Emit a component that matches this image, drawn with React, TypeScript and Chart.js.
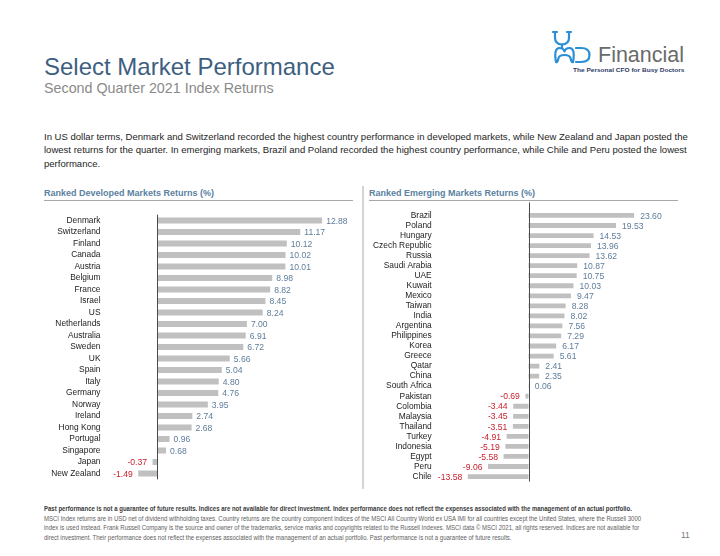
import React, { useEffect, useLayoutEffect, useRef, useState } from 'react';
import { Chart, registerables } from 'chart.js';

Chart.register(...registerables);

// ---------- DATA ----------
const devCountries = [
  'Denmark', 'Switzerland', 'Finland', 'Canada', 'Austria', 'Belgium', 'France', 'Israel', 'US',
  'Netherlands', 'Australia', 'Sweden', 'UK', 'Spain', 'Italy', 'Germany', 'Norway', 'Ireland',
  'Hong Kong', 'Portugal', 'Singapore', 'Japan', 'New Zealand',
];
const devReturns = [
  12.88, 11.17, 10.12, 10.02, 10.01, 8.98, 8.82, 8.45, 8.24, 7.0, 6.91, 6.72, 5.66, 5.04, 4.8,
  4.76, 3.95, 2.74, 2.68, 0.96, 0.68, -0.37, -1.49,
];
const emCountries = [
  'Brazil', 'Poland', 'Hungary', 'Czech Republic', 'Russia', 'Saudi Arabia', 'UAE', 'Kuwait',
  'Mexico', 'Taiwan', 'India', 'Argentina', 'Philippines', 'Korea', 'Greece', 'Qatar', 'China',
  'South Africa', 'Pakistan', 'Colombia', 'Malaysia', 'Thailand', 'Turkey', 'Indonesia', 'Egypt',
  'Peru', 'Chile',
];
const emReturns = [
  23.6, 19.53, 14.53, 13.96, 13.62, 10.87, 10.75, 10.03, 9.47, 8.28, 8.02, 7.56, 7.29, 6.17, 5.61,
  2.41, 2.35, 0.06, -0.69, -3.44, -3.45, -3.51, -4.91, -5.19, -5.58, -9.06, -13.58,
];

const titleText = 'Select Market Performance';
const subtitleText = 'Second Quarter 2021 Index Returns';
const paragraphLines = [
  'In US dollar terms, Denmark and Switzerland recorded the highest country performance in developed markets, while New Zealand and Japan posted the',
  'lowest returns for the quarter. In emerging markets, Brazil and Poland recorded the highest country performance, while Chile and Peru posted the lowest',
  'performance.',
];
const devHeader = 'Ranked Developed Markets Returns (%)';
const emHeader = 'Ranked Emerging Markets Returns (%)';
const footerBold =
  'Past performance is not a guarantee of future results. Indices are not available for direct investment. Index performance does not reflect the expenses associated with the management of an actual portfolio.';
const footerLines = [
  'MSCI Index returns are in USD net of dividend withholding taxes. Country returns are the country component indices of the MSCI All Country World ex USA IMI for all countries except the United States, where the Russell 3000',
  'index is used instead. Frank Russell Company is the source and owner of the trademarks, service marks and copyrights related to the Russell Indexes. MSCI data © MSCI 2021, all rights reserved. Indices are not available for',
  'direct investment. Their performance does not reflect the expenses associated with the management of an actual portfolio. Past performance is not a guarantee of future results.',
];
const pageNumber = '11';

// ---------- STYLE ----------
const FONT = "'Liberation Sans', Arial, Helvetica, sans-serif";
const NARROW = "'Liberation Sans Narrow', 'Arial Narrow', 'Liberation Sans', Arial, sans-serif";
const BAR_COLOR = '#c0c0c0';
const POS_COLOR = '#5f7d9b';
const NEG_COLOR = '#c8202e';

const valueLabelPlugin = {
  id: 'valueLabels',
  afterDatasetsDraw(chart: any, _args: any, opts: any) {
    const ctx = chart.ctx;
    const meta = chart.getDatasetMeta(0);
    const data = chart.data.datasets[0].data as number[];
    ctx.save();
    ctx.font = `${opts.size}px ${FONT}`;
    ctx.textBaseline = 'middle';
    meta.data.forEach((bar: any, i: number) => {
      const v = data[i];
      const neg = v < 0;
      ctx.fillStyle = neg ? NEG_COLOR : POS_COLOR;
      ctx.textAlign = neg ? 'right' : 'left';
      const x = neg ? bar.x - opts.negGap : bar.x + opts.posGap;
      ctx.fillText(v.toFixed(2), x, bar.y + opts.dy);
    });
    ctx.restore();
  },
};

const zeroLinePlugin = {
  id: 'zeroLine',
  afterDatasetsDraw(chart: any, _args: any, opts: any) {
    const ctx = chart.ctx;
    const x = Math.round(chart.scales.x.getPixelForValue(0)) + 0.5;
    const { top, bottom } = chart.chartArea;
    ctx.save();
    ctx.strokeStyle = '#4a4a4a';
    ctx.lineWidth = 1;
    ctx.beginPath();
    ctx.moveTo(x, top - (opts.extTop || 0));
    ctx.lineTo(x, bottom + (opts.extBottom || 0));
    ctx.stroke();
    ctx.restore();
  },
};

type BarProps = {
  labels: string[];
  values: number[];
  left: number;
  top: number;
  width: number;
  height: number;
  axisWidth: number;
  pad: { top: number; bottom: number; right: number };
  min: number;
  max: number;
  labelPad: number;
  barPct: number;
  posGap: number;
  negGap: number;
  extTop: number;
};

function BarChart(p: BarProps) {
  const ref = useRef<HTMLCanvasElement>(null);
  useEffect(() => {
    if (!ref.current) return;
    const chart = new Chart(ref.current, {
      type: 'bar',
      data: {
        labels: p.labels,
        datasets: [
          {
            data: p.values,
            backgroundColor: BAR_COLOR,
            borderWidth: 0,
            barPercentage: p.barPct,
            categoryPercentage: 1,
          },
        ],
      },
      options: {
        indexAxis: 'y',
        animation: false,
        responsive: false,
        maintainAspectRatio: false,
        devicePixelRatio: 1,
        layout: { padding: { left: 0, top: p.pad.top, bottom: p.pad.bottom, right: p.pad.right } },
        plugins: {
          legend: { display: false },
          tooltip: { enabled: false },
          valueLabels: { size: 8.6, posGap: p.posGap, negGap: p.negGap, dy: 0.8 },
          zeroLine: { extTop: p.extTop, extBottom: 0 },
        } as any,
        scales: {
          x: { display: false, min: p.min, max: p.max },
          y: {
            grid: { display: false, drawTicks: false },
            border: { display: false },
            ticks: {
              autoSkip: false,
              padding: p.labelPad,
              color: '#1c1c1c',
              font: { family: FONT, size: 8.4 },
            },
            afterFit: (s: any) => {
              s.width = p.axisWidth;
            },
          },
        },
      } as any,
      plugins: [valueLabelPlugin, zeroLinePlugin],
    });
    return () => chart.destroy();
  }, []);
  return (
    <canvas
      ref={ref}
      width={p.width}
      height={p.height}
      style={{ position: 'absolute', left: p.left, top: p.top, width: p.width, height: p.height }}
    />
  );
}

function Txt(props: {
  x: number;
  baseline: number;
  size: number;
  color: string;
  weight?: number | string;
  family?: string;
  children: React.ReactNode;
}) {
  const { x, baseline, size, color, weight, family, children } = props;
  return (
    <div
      style={{
        position: 'absolute',
        left: x,
        top: baseline - 0.8465 * size,
        fontSize: size,
        lineHeight: `${size}px`,
        color,
        fontWeight: weight ?? 'normal',
        fontFamily: family ?? FONT,
        whiteSpace: 'nowrap',
      }}
    >
      {children}
    </div>
  );
}

function FitGroup(props: {
  x: number;
  lines: string[];
  baselines: number[];
  size: number;
  color: string;
  weight?: number | string;
  family?: string;
  target: number;
}) {
  const { x, lines, baselines, size, color, weight, family, target } = props;
  const refs = useRef<(HTMLSpanElement | null)[]>([]);
  const [scale, setScale] = useState(1);
  useLayoutEffect(() => {
    const el = refs.current[0];
    if (el && el.offsetWidth > 0) setScale(target / el.offsetWidth);
  }, []);
  return (
    <>
      {lines.map((l, i) => (
        <span
          key={i}
          ref={(e) => {
            refs.current[i] = e;
          }}
          style={{
            position: 'absolute',
            left: x,
            top: baselines[i] - 0.8465 * size,
            fontSize: size,
            lineHeight: `${size}px`,
            color,
            fontWeight: weight ?? 'normal',
            fontFamily: family ?? FONT,
            whiteSpace: 'nowrap',
            transform: `scaleX(${scale})`,
            transformOrigin: '0 0',
          }}
        >
          {l}
        </span>
      ))}
    </>
  );
}

function Logo() {
  const blue = '#2a8fd6';
  return (
    <>
      <svg
        width={60}
        height={40}
        viewBox="0 0 60 40"
        style={{ position: 'absolute', left: 545, top: 28 }}
      >
        <g fill="none" stroke={blue} strokeWidth={2.2} strokeLinecap="round" strokeLinejoin="round">
          <path d="M8 4 H12 M22 4 H26" />
          <path d="M10 4 V10 Q10 16 17 16.5 Q24 16 24 10 V4" />
          <path d="M17 16.5 V20" />
          <path d="M11 34 Q8.5 20 14.5 20 Q18.5 20 19.5 23.5 Q20.5 20 24.5 20 Q30.5 20 28 34 Q26.5 35 25.5 30 Q24.5 27 19.5 27 Q14.5 27 13.5 30 Q12.5 35 11 34 Z" />
          <path d="M31 20 H36 Q44.5 20 44.5 27 Q44.5 34 36 34 H31" />
        </g>
      </svg>
      <Txt x={598} baseline={63} size={21.5} color="#6a6a6a">
        Financial
      </Txt>
      <FitGroup
        x={573}
        lines={['The Personal CFO for Busy Doctors']}
        baselines={[72]}
        size={6}
        weight="bold"
        color="#2b3a66"
        target={111}
      />
    </>
  );
}

export default function App() {
  return (
    <div
      style={{
        position: 'absolute',
        left: 0,
        top: 0,
        width: 720,
        height: 556,
        background: '#ffffff',
        overflow: 'hidden',
        fontFamily: FONT,
      }}
    >
      <Logo />
      <Txt x={44} baseline={75.3} size={24} color="#3e5f7f">
        {titleText}
      </Txt>
      <Txt x={44} baseline={92.7} size={14.3} color="#8a8a8a">
        {subtitleText}
      </Txt>

      <FitGroup
        x={44}
        lines={paragraphLines}
        baselines={[140.2, 154, 167.8]}
        size={9}
        color="#1e1e1e"
        target={644}
      />

      <Txt x={44} baseline={196.2} size={9} color="#5a81a2" weight="bold">
        {devHeader}
      </Txt>
      <Txt x={369} baseline={196.2} size={9} color="#5a81a2" weight="bold">
        {emHeader}
      </Txt>
      <div style={{ position: 'absolute', left: 44, top: 200, width: 309, height: 1, background: '#a8a8a8' }} />
      <div style={{ position: 'absolute', left: 369, top: 200, width: 309, height: 1, background: '#a8a8a8' }} />
      <div style={{ position: 'absolute', left: 362, top: 186, width: 2, height: 303, background: '#d4d4d4' }} />

      <BarChart
        labels={devCountries}
        values={devReturns}
        left={40}
        top={204}
        width={320}
        height={286}
        axisWidth={66.1}
        pad={{ top: 6.9, bottom: 6.8, right: 0.5 }}
        min={-4}
        max={15.8}
        labelPad={5.6}
        barPct={0.52}
        posGap={4}
        negGap={5.5}
        extTop={0}
      />
      <BarChart
        labels={emCountries}
        values={emReturns}
        left={366}
        top={198}
        width={324}
        height={296}
        axisWidth={73.1}
        pad={{ top: 11.1, bottom: 4.8, right: 9.3 }}
        min={-20}
        max={34}
        labelPad={7.4}
        barPct={0.48}
        posGap={6}
        negGap={5.6}
        extTop={8}
      />

      <FitGroup
        x={44}
        lines={[footerBold]}
        baselines={[510.5]}
        size={7}
        weight="bold"
        color="#3a3a3a"
        family={NARROW}
        target={588}
      />
      <FitGroup
        x={44}
        lines={footerLines}
        baselines={[520.6, 530, 539.5]}
        size={7}
        color="#5e5e5e"
        family={NARROW}
        target={597}
      />
      <Txt x={681} baseline={538} size={8.5} color="#7a7a7a">
        {pageNumber}
      </Txt>
    </div>
  );
}
